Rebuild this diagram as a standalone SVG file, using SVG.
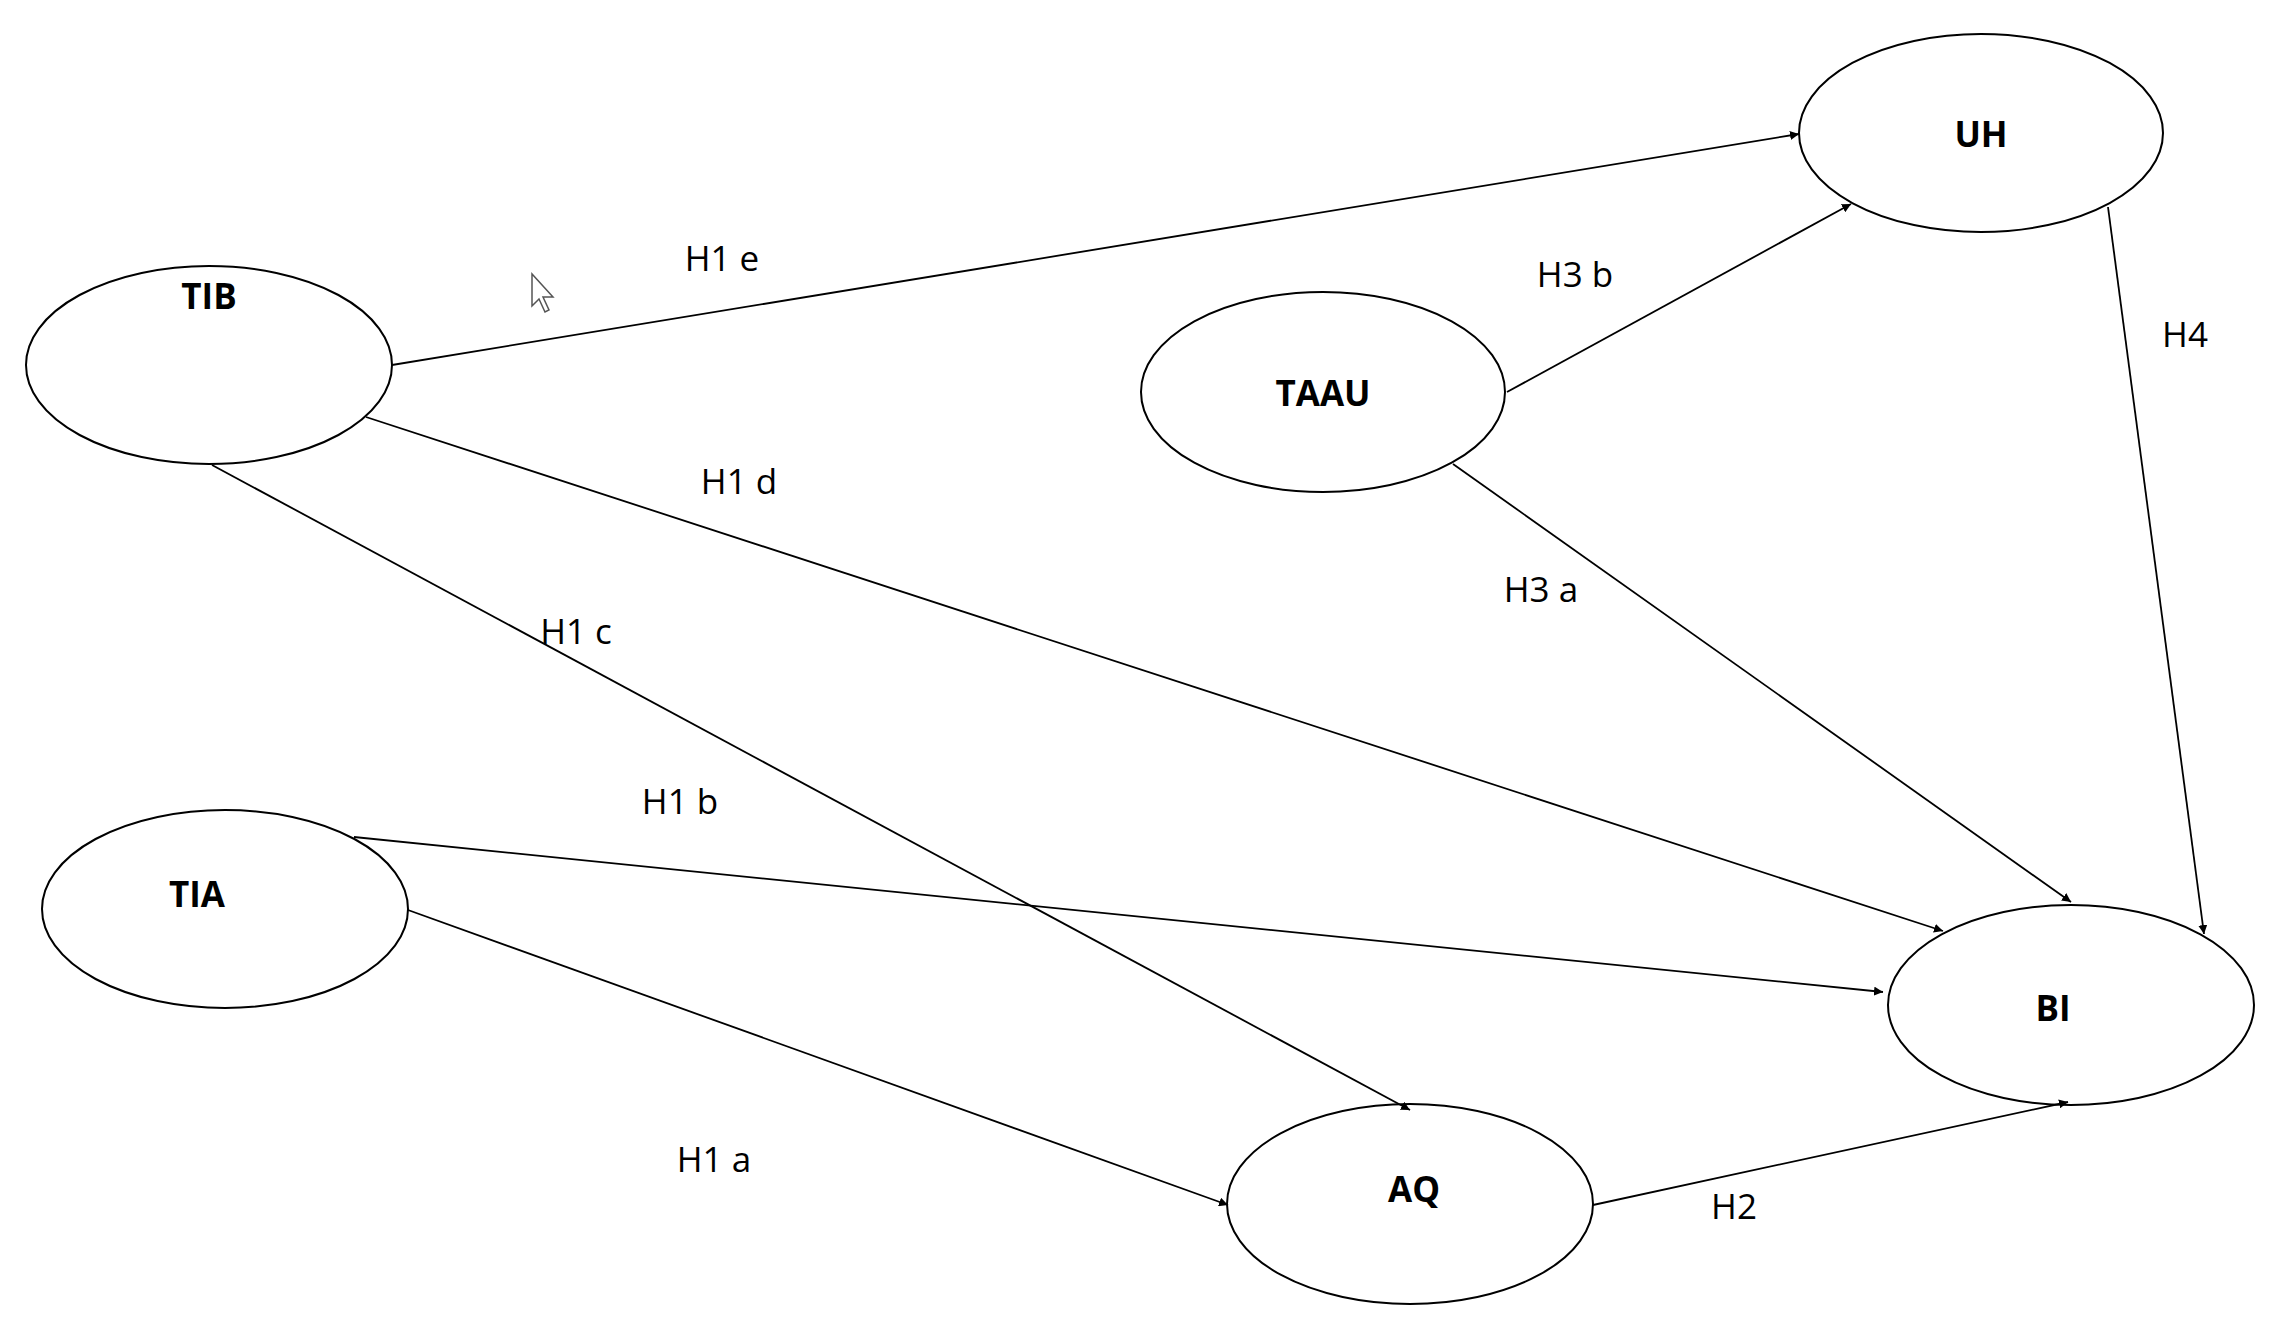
<svg xmlns="http://www.w3.org/2000/svg" width="2277" height="1335" viewBox="0 0 2277 1335">
<style>
.n{fill:#fff;stroke:#000;stroke-width:2}
.t{font-family:"Open Sans","Liberation Sans",sans-serif;font-size:35px;font-weight:bold;text-anchor:middle;dominant-baseline:central}
.l{font-family:"Open Sans","Liberation Sans",sans-serif;font-size:35px;text-anchor:middle;dominant-baseline:central}
.c line{stroke:#000;stroke-width:1.8;marker-end:url(#a)}
</style>
<defs><marker id="a" viewBox="0 0 10 10" refX="10" refY="5" markerWidth="9" markerHeight="9" markerUnits="userSpaceOnUse" orient="auto"><path d="M0,0 L10,5 L0,10 z"/></marker></defs>
<rect width="2277" height="1335" fill="#fff"/>
<g id="TIB"><ellipse class="n" cx="209" cy="365" rx="183" ry="99"/><text class="t" x="209" y="295">TIB</text></g>
<g id="UH"><ellipse class="n" cx="1981" cy="133" rx="182" ry="99"/><text class="t" x="1981" y="133">UH</text></g>
<g id="TAAU"><ellipse class="n" cx="1323" cy="392" rx="182" ry="100"/><text class="t" x="1323" y="392">TAAU</text></g>
<g id="TIA"><ellipse class="n" cx="225" cy="909" rx="183" ry="99"/><text class="t" x="197" y="893">TIA</text></g>
<g id="BI"><ellipse class="n" cx="2071" cy="1005" rx="183" ry="100"/><text class="t" x="2053" y="1007">BI</text></g>
<g id="AQ"><ellipse class="n" cx="1410" cy="1204" rx="183" ry="100"/><text class="t" x="1414" y="1188">AQ</text></g>
<g class="c">
<line x1="392" y1="365" x2="1799" y2="134"/>
<line x1="1507" y1="392" x2="1851" y2="204"/>
<line x1="2108" y1="207" x2="2204" y2="934"/>
<line x1="366" y1="417" x2="1943" y2="931"/>
<line x1="1453" y1="464" x2="2071" y2="902"/>
<line x1="212" y1="465" x2="1410" y2="1110"/>
<line x1="354" y1="837" x2="1883" y2="992"/>
<line x1="408" y1="910" x2="1228" y2="1205"/>
<line x1="1593" y1="1205" x2="2068" y2="1102"/>
</g>
<g id="labels">
<text class="l" x="722" y="257">H1 e</text>
<text class="l" x="1575" y="273">H3 b</text>
<text class="l" x="2185" y="333">H4</text>
<text class="l" x="739" y="480">H1 d</text>
<text class="l" x="1541" y="588">H3 a</text>
<text class="l" x="576" y="630">H1 c</text>
<text class="l" x="680" y="800">H1 b</text>
<text class="l" x="714" y="1158">H1 a</text>
<text class="l" x="1734" y="1205">H2</text>
</g>
<path d="M532,274 L532,306 L539,299 L545,312 L549,310 L543,297 L553,297 Z" fill="#fff" stroke="#555" stroke-width="1.5"/>
</svg>
